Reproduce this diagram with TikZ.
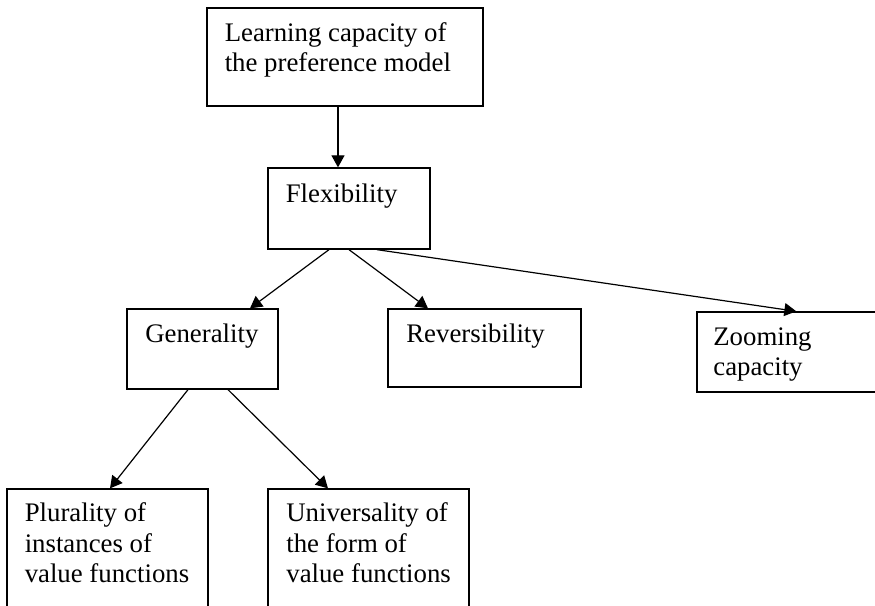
\documentclass[tikz,border=0pt]{standalone}
\usepackage{fontspec}
\setmainfont{Liberation Serif}
\usetikzlibrary{arrows.meta}
\begin{document}
\begin{tikzpicture}[x=0.5pt,y=-0.5pt,
  box/.style={draw, line width=0.65pt, inner sep=0pt},
  lbl/.style={anchor=base west, inner sep=0pt, font=\fontsize{13.4}{15.25}\selectfont},
  arr/.style={line width=0.6pt, -{Triangle[width=6.5pt,length=6pt]}}]
\useasboundingbox (0,0) rectangle (875,606);
\clip (0,0) rectangle (875,606);
% boxes
\node[box, minimum width=138pt, minimum height=49pt] (b1) at (345,57) {};
\node[box, minimum width=81pt, minimum height=40.5pt] (flex) at (349,208.5) {};
\node[box, minimum width=75.5pt, minimum height=40pt] (gen) at (202.5,349) {};
\node[box, minimum width=96.5pt, minimum height=39pt] (rev) at (484.5,348) {};
\node[box, minimum width=96.5pt, minimum height=40pt] (zoom) at (793.5,352) {};
\node[box, minimum width=100.5pt, minimum height=65.5pt] (plur) at (107.5,554.5) {};
\node[box, minimum width=100.5pt, minimum height=65.5pt] (univ) at (368.5,554.5) {};
% texts
\node[lbl] (t1) at ([shift={(9pt,-17pt)}]b1.north west) {\parbox[t]{150pt}{Learning capacity of\\the preference model}};
\node[lbl] (t2) at ([shift={(9pt,-17.5pt)}]flex.north west) {Flexibility};
\node[lbl] (t3) at ([shift={(9.3pt,-17pt)}]gen.north west) {Generality};
\node[lbl] (t4) at ([shift={(9.3pt,-17pt)}]rev.north west) {Reversibility};
\node[lbl] (t5) at ([shift={(8.3pt,-17pt)}]zoom.north west) {\parbox[t]{90pt}{Zooming\\capacity}};
\node[lbl] (t6) at ([shift={(9pt,-16.8pt)}]plur.north west) {\parbox[t]{100pt}{Plurality of\\instances of\\value functions}};
\node[lbl] (t7) at ([shift={(9.3pt,-16.8pt)}]univ.north west) {\parbox[t]{100pt}{Universality of\\the form of\\value functions}};
% connectors
\draw[arr] ([xshift=-3.5pt]b1.south) -- ([xshift=-5.5pt]flex.north);
\draw[arr] ([xshift=-10pt]flex.south) -- ([xshift=23.75pt]gen.north);
\draw[arr] (flex.south) -- ([xshift=-28.25pt]rev.north);
\draw[arr] ([xshift=14pt]flex.south) -- ([xshift=50pt]zoom.north west);
\draw[arr] ([xshift=-7.25pt]gen.south) -- ([xshift=1.25pt]plur.north);
\draw[arr] ([xshift=12.75pt]gen.south) -- ([xshift=-20.25pt]univ.north);
\end{tikzpicture}
\end{document}
